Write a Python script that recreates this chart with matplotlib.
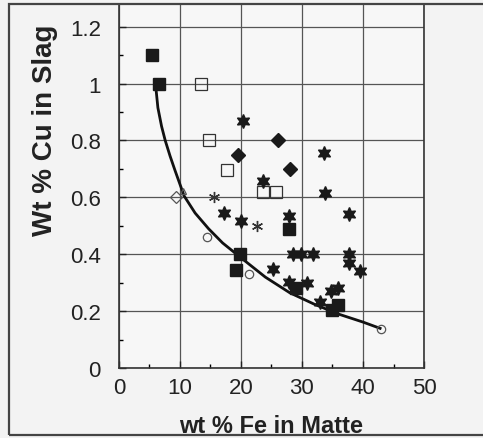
import numpy as np
import matplotlib
matplotlib.use("Agg")
import matplotlib.pyplot as plt
from matplotlib.patches import Rectangle
from matplotlib.ticker import MultipleLocator

plt.rcParams['font.family'] = ['Liberation Sans', 'DejaVu Sans']

# Cu loss in slag vs Fe in matte, several data sets
sq_fill_x = [5.5, 6.5, 27.8, 19.8, 19.2, 29.1, 35.9, 35.0]
sq_fill_y = [1.10, 1.00, 0.49, 0.40, 0.345, 0.28, 0.222, 0.205]

sq_open_x = [13.5, 14.7, 17.7, 23.6, 25.7]
sq_open_y = [1.00, 0.80, 0.697, 0.62, 0.62]

dia_x = [19.5, 26.0, 28.1]
dia_y = [0.75, 0.80, 0.70]

star_x = [20.4, 33.6, 23.6, 33.7, 17.2, 20.0, 27.8, 37.7, 28.6, 29.8,
          31.8, 37.7, 37.7, 39.5, 25.3, 27.9, 30.9, 32.9, 34.8, 35.9]
star_y = [0.867, 0.757, 0.657, 0.616, 0.545, 0.517, 0.533, 0.54, 0.40, 0.40,
          0.40, 0.40, 0.37, 0.342, 0.35, 0.303, 0.30, 0.232, 0.272, 0.282]

ast_x = [15.6, 22.7]
ast_y = [0.60, 0.50]

circ_x = [14.5, 21.4, 42.9]
circ_y = [0.462, 0.332, 0.137]

odia_x = [9.3]
odia_y = [0.60]

tri_x = [10.5]
tri_y = [0.624]

# trend line
fit_x = [6.0, 6.4, 7.0, 7.6, 8.4, 9.2, 10.7, 12.5, 14.7, 17.0, 19.6,
         24.0, 28.0, 32.0, 36.0, 40.0, 42.8]
fit_y = [1.00, 0.915, 0.85, 0.80, 0.745, 0.695, 0.605, 0.545, 0.49, 0.44, 0.395,
         0.32, 0.265, 0.225, 0.19, 0.162, 0.14]

fig = plt.figure(figsize=(4.83, 4.39), dpi=100, facecolor='#f3f3f3')
ax = fig.add_axes([0.246, 0.159, 0.632, 0.83], facecolor='#f7f7f7')

ax.grid(True, which='major', color='#555555', linewidth=0.9)
ax.set_axisbelow(True)

ax.plot(fit_x, fit_y, color='#111111', linewidth=2.0, zorder=2)

ax.plot(sq_fill_x, sq_fill_y, 's', color='#1a1a1a', markersize=9, zorder=3)
ax.plot(sq_open_x, sq_open_y, 's', mfc='none', mec='#333333', mew=0.9, markersize=9, zorder=3)
ax.plot(dia_x, dia_y, 'D', color='#1a1a1a', markersize=7, zorder=3)
ax.plot(star_x, star_y, marker=(6, 1, 0), ls='none', color='#1a1a1a', markersize=10, zorder=3)
ax.plot(ast_x, ast_y, marker=(6, 2, 0), ls='none', color='#333333', mew=1.0, markersize=8, zorder=3)
ax.plot(circ_x, circ_y, 'o', mfc='none', mec='#555555', mew=0.9, markersize=6, zorder=3)
ax.plot(odia_x, odia_y, 'D', mfc='none', mec='#555555', mew=0.9, markersize=6, zorder=3)
ax.plot(tri_x, tri_y, '^', mfc='none', mec='#555555', mew=0.9, markersize=5, zorder=3)

ax.set_xlim(0, 50)
ax.set_ylim(0, 1.28)
ax.set_xticks([0, 10, 20, 30, 40, 50])
ax.set_yticks([0, 0.2, 0.4, 0.6, 0.8, 1.0, 1.2])
ax.set_yticklabels(['0', '0.2', '0.4', '0.6', '0.8', '1', '1.2'])
ax.xaxis.set_minor_locator(MultipleLocator(5))
ax.yaxis.set_minor_locator(MultipleLocator(0.1))
ax.tick_params(which='major', direction='in', length=5, width=1, labelsize=16, colors='#222222')
ax.tick_params(axis='x', which='major', pad=6)
ax.tick_params(axis='y', which='major', pad=13)
ax.tick_params(which='minor', direction='in', length=3, width=1)
for s in ax.spines.values():
    s.set_color('#333333')
    s.set_linewidth(1.2)

ax.set_xlabel('wt % Fe in Matte', fontsize=17, fontweight='bold', color='#222222')
ax.set_ylabel('Wt % Cu in Slag', fontsize=20, fontweight='bold', color='#222222')
ax.xaxis.set_label_coords(0.5, -0.125)
ax.yaxis.set_label_coords(-0.2, 0.655)

# outer frame
fig.patches.append(Rectangle((9 / 483, 1 - 436 / 439), 1.2, (436 - 5) / 439,
                             transform=fig.transFigure, fill=False,
                             edgecolor='#444444', linewidth=1.6))

fig.savefig('out.png', dpi=100, facecolor=fig.get_facecolor())
